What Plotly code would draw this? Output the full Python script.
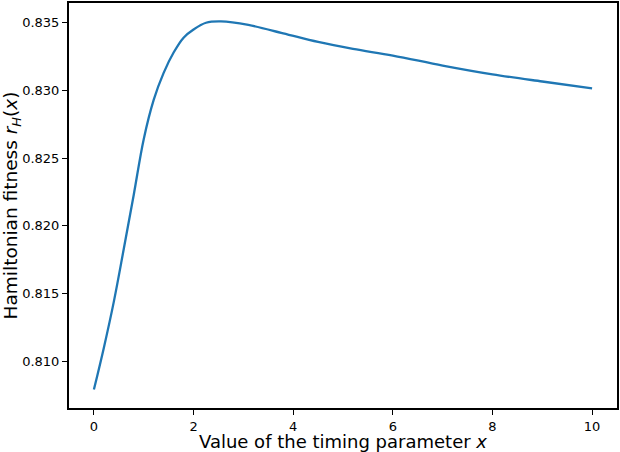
import plotly.graph_objects as go

# timing parameter x and the Hamiltonian fitness r_H(x)
x_vals = [0.0, 0.2, 0.4, 0.6, 0.8, 1.0, 1.2, 1.4, 1.6, 1.8, 2.0, 2.25, 2.55,
          3.1, 3.8, 4.5, 5.2, 6.0, 7.0, 8.0, 9.0, 10.0]
r_h = [0.8079, 0.8110, 0.8144, 0.8183, 0.8223, 0.8264, 0.8293, 0.8313, 0.8328,
       0.8339, 0.8345, 0.8350, 0.8351, 0.83484, 0.83422, 0.83358, 0.83307,
       0.83258, 0.83184, 0.83119, 0.83066, 0.83016]

x_ticks = [0, 2, 4, 6, 8, 10]
y_ticks = [0.810, 0.815, 0.820, 0.825, 0.830, 0.835]

font = "DejaVu Sans"

fig = go.Figure()
fig.add_trace(go.Scatter(x=x_vals, y=r_h, mode="lines",
                         line=dict(color="#1f77b4", width=2.3, shape="spline", smoothing=1),
                         showlegend=False))

span = max(r_h) - min(r_h)
axis_common = dict(showgrid=False, zeroline=False, showline=True, linecolor="black",
                   linewidth=2, mirror=True, ticks="outside", ticklen=5, tickwidth=1.2,
                   tickcolor="black", tickfont=dict(family=font, size=13, color="black"),
                   automargin=True)

fig.update_xaxes(range=[-0.5, 10.5], tickvals=x_ticks,
                 title=dict(text="Value of the timing parameter <i>x</i>",
                            font=dict(family=font, size=18, color="black"), standoff=4),
                 **axis_common)
fig.update_yaxes(range=[min(r_h) - 0.05 * span, max(r_h) + 0.05 * span],
                 tickvals=y_ticks, tickformat=".3f",
                 title=dict(text="Hamiltonian fitness <i>r</i><sub><i>H</i></sub>(<i>x</i>)",
                            font=dict(family=font, size=18.5, color="black"), standoff=6),
                 **axis_common)

fig.update_layout(width=620, height=452, margin=dict(l=69, r=3, t=3, b=44, autoexpand=False),
                  paper_bgcolor="white", plot_bgcolor="white",
                  font=dict(family=font, color="black"))

# drop the default body margin so the figure sits at the page corner
fig.write_html("out.html", config={"displayModeBar": False},
               post_script="document.body.style.margin='0';")
